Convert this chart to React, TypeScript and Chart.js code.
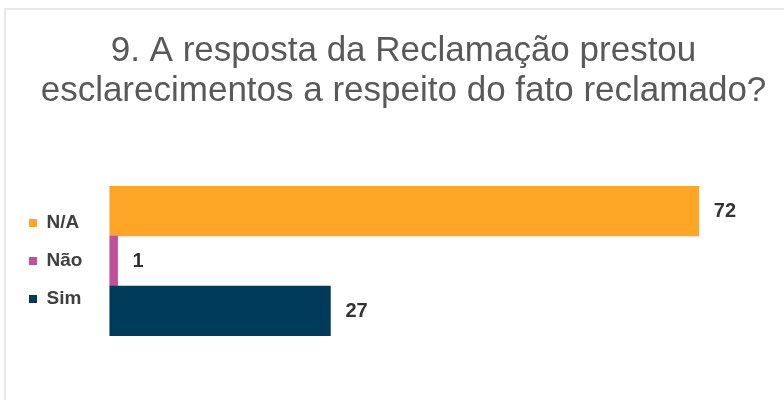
import React, { useEffect, useRef } from "react";
import { Chart, registerables } from "chart.js";

Chart.register(...registerables);

const titleLines = [
  "9. A resposta da Reclamação prestou",
  "esclarecimentos a respeito do fato reclamado?",
];
const categories = ["N/A", "Não", "Sim"];
const values = [72, 1, 27];
const barColors = ["#FCA526", "#C1509A", "#013B5B"];
const axisMax = 84;

const valueLabels = {
  id: "valueLabels",
  afterDatasetsDraw(chart: any) {
    const ctx = chart.ctx;
    const meta = chart.getDatasetMeta(0);
    ctx.save();
    ctx.font = "bold 20px 'Liberation Sans', Arial, sans-serif";
    ctx.fillStyle = "#333333";
    ctx.textAlign = "left";
    ctx.textBaseline = "middle";
    meta.data.forEach((bar: any, i: number) => {
      ctx.fillText(String(values[i]), bar.x + 15, bar.y);
    });
    ctx.restore();
  },
};

export default function App() {
  const ref = useRef<HTMLCanvasElement | null>(null);

  useEffect(() => {
    if (!ref.current) return;
    const chart = new Chart(ref.current, {
      type: "bar",
      data: {
        labels: categories,
        datasets: [
          {
            data: values,
            backgroundColor: barColors,
            borderWidth: 0,
            barPercentage: 1,
            categoryPercentage: 1,
          },
        ],
      },
      options: {
        indexAxis: "y",
        animation: false,
        responsive: true,
        maintainAspectRatio: false,
        layout: { padding: { left: 10, right: 9, top: 0, bottom: 64 } },
        scales: {
          x: { display: false, min: 0, max: axisMax },
          y: {
            display: true,
            ticks: { display: false },
            grid: { display: false },
            border: { display: false },
            afterFit: (s: any) => {
              s.width = 17;
            },
          },
        },
        plugins: {
          tooltip: { enabled: false },
          title: {
            display: true,
            text: titleLines,
            color: "#595959",
            font: {
              family: "'Liberation Sans', Arial, sans-serif",
              size: 35,
              weight: "normal",
              lineHeight: 40 / 35,
            },
            padding: { top: 31, bottom: 75 },
          },
          legend: {
            display: true,
            position: "left",
            fullSize: false,
            labels: {
              boxWidth: 8,
              boxHeight: 8,
              padding: 19,
              color: "#404040",
              font: {
                family: "'Liberation Sans', Arial, sans-serif",
                size: 19,
                weight: "bold",
              },
              generateLabels: () =>
                categories.map((c, i) => ({
                  text: c,
                  fillStyle: barColors[i],
                  strokeStyle: barColors[i],
                  lineWidth: 0,
                  hidden: false,
                  index: i,
                  fontColor: "#404040",
                })),
            },
          },
        },
      },
      plugins: [valueLabels],
    });
    return () => chart.destroy();
  }, []);

  return (
    <div
      style={{
        position: "fixed",
        left: 0,
        top: 0,
        width: 784,
        height: 400,
        overflow: "hidden",
        background: "#ffffff",
      }}
    >
      <div
        style={{
          position: "absolute",
          left: 4,
          top: 8,
          width: 820,
          height: 420,
          borderTop: "2px solid #e8e8e8",
          borderLeft: "2px solid #e8e8e8",
        }}
      />
      <div style={{ position: "absolute", left: 0, top: 0, width: 806, height: 400 }}>
        <canvas ref={ref} />
      </div>
    </div>
  );
}
